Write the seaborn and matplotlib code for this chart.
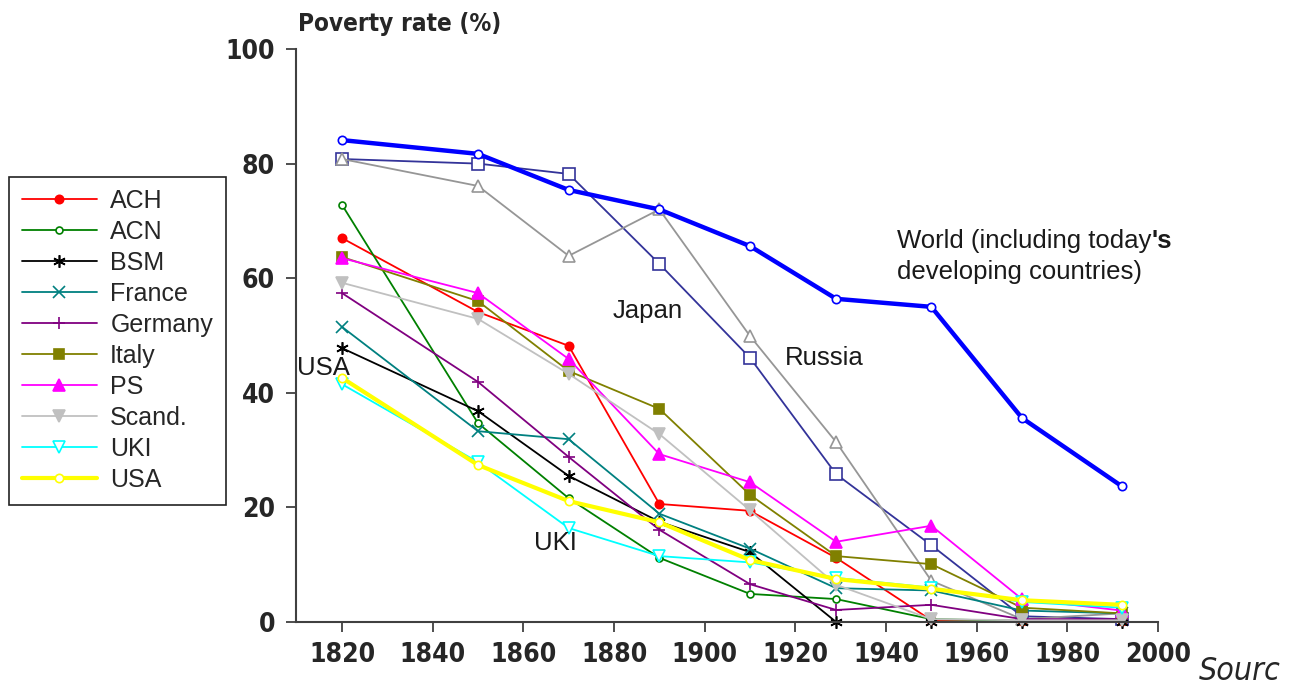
import matplotlib
matplotlib.use("Agg")
import matplotlib.pyplot as plt
import seaborn as sns
import pandas as pd

# ---------------- data ----------------
years = [1820, 1850, 1870, 1890, 1910, 1929, 1950, 1970, 1992]

ach = [67.0, 54.1, 48.2, 20.6, 19.4, 11.2, 0.3, 0.2, 0.2]
acn = [72.8, 34.7, 21.6, 11.2, 4.9, 4.0, 0.5, 0.2, 0.2]
bsm = [47.8, 36.8, 25.5, 17.5, 12.2, 0.0, 0.0, 0.0, 0.0]
france = [51.5, 33.3, 31.9, 18.9, 12.8, 5.9, 5.5, 2.0, 1.5]
germany = [57.4, 41.9, 28.8, 16.1, 6.6, 2.1, 3.0, 0.5, 0.5]
italy = [63.7, 56.0, 43.8, 37.2, 22.2, 11.5, 10.1, 2.5, 1.5]
ps = [63.5, 57.4, 45.9, 29.3, 24.4, 14.0, 16.8, 4.0, 2.0]
scand = [59.2, 52.9, 43.3, 32.8, 19.5, 6.5, 0.5, 0.3, 0.3]
uki = [41.5, 27.9, 16.4, 11.5, 10.4, 7.7, 6.0, 3.5, 2.5]
usa = [42.6, 27.4, 21.1, 17.4, 10.8, 7.5, 5.8, 3.8, 3.0]
japan = [80.8, 80.0, 78.2, 62.5, 46.1, 25.8, 13.4, 1.0, 0.5]
russia = [80.8, 76.1, 63.9, 72.0, 49.9, 31.4, 7.2, 0.5, 1.5]
world = [84.1, 81.7, 75.4, 72.0, 65.6, 56.4, 55.0, 35.6, 23.7]

series_names = ["ACH", "ACN", "BSM", "France", "Germany", "Italy", "PS",
                "Scand.", "UKI", "USA", "Japan", "Russia", "World"]
series_values = [ach, acn, bsm, france, germany, italy, ps, scand, uki, usa,
                 japan, russia, world]
legend_names = ["ACH", "ACN", "BSM", "France", "Germany", "Italy", "PS",
                "Scand.", "UKI", "USA"]

x_ticks = [1820, 1840, 1860, 1880, 1900, 1920, 1940, 1960, 1980, 2000]
y_ticks = [0, 20, 40, 60, 80, 100]

# ---------------- styles ----------------
styles = {
    "ACH":     dict(color="#FF0000", marker="o", mfc="#FF0000", ms=6, lw=1.3),
    "ACN":     dict(color="#008000", marker="o", mfc="white", ms=5, lw=1.3),
    "BSM":     dict(color="#000000", marker=(6, 2, 0), mfc="#000000", ms=9, lw=1.3),
    "France":  dict(color="#008080", marker="x", mfc="#008080", ms=8, lw=1.3),
    "Germany": dict(color="#800080", marker="+", mfc="#800080", ms=9, lw=1.3),
    "Italy":   dict(color="#808000", marker="s", mfc="#808000", ms=7, lw=1.3),
    "PS":      dict(color="#FF00FF", marker="^", mfc="#FF00FF", ms=8, lw=1.3),
    "Scand.":  dict(color="#C0C0C0", marker="v", mfc="#C0C0C0", ms=8, lw=1.3),
    "UKI":     dict(color="#00FFFF", marker="v", mfc="white", ms=8, lw=1.3),
    "USA":     dict(color="#FFFF00", marker="o", mfc="white", ms=6, lw=3.0),
    "Japan":   dict(color="#333399", marker="s", mfc="white", ms=8, lw=1.3),
    "Russia":  dict(color="#969696", marker="^", mfc="white", ms=8, lw=1.3),
    "World":   dict(color="#0000FF", marker="o", mfc="white", ms=6, lw=3.2),
}

rows = []
for name, vals in zip(series_names, series_values):
    for yr, v in zip(years, vals):
        rows.append({"series": name, "year": yr, "rate": v})
df = pd.DataFrame(rows)

sns.set_style("white")
plt.rcParams["font.family"] = ["Liberation Sans", "DejaVu Sans"]

fig = plt.figure(figsize=(13.04, 6.87), dpi=100)
ax = fig.add_axes([296 / 1304, 1 - 622 / 687, (1158 - 296) / 1304, (622 - 49) / 687])

draw_order = ["Japan", "Russia", "World", "ACH", "ACN", "BSM", "France",
              "Germany", "Italy", "PS", "Scand.", "UKI", "USA"]
handles = {}
for name in draw_order:
    st = styles[name]
    sub = df[df["series"] == name]
    sns.lineplot(data=sub, x="year", y="rate", ax=ax, color=st["color"],
                 marker=st["marker"], markersize=st["ms"], linewidth=st["lw"],
                 markerfacecolor=st["mfc"], markeredgecolor=st["color"],
                 markeredgewidth=1.2, label=name if name in legend_names else None,
                 legend=False, clip_on=False)
    handles[name] = ax.lines[-1]

ax.set_xlim(1809.85, 2000)
ax.set_ylim(0, 100)
ax.set_xticks(x_ticks)
ax.set_yticks(y_ticks)
ax.set_xlabel("")
ax.set_ylabel("")
for s in ["top", "right"]:
    ax.spines[s].set_visible(False)
for s in ["left", "bottom"]:
    ax.spines[s].set_color("#404040")
    ax.spines[s].set_linewidth(1.5)
ax.tick_params(axis="both", direction="out", length=7.2, width=1.3, color="#404040",
               bottom=True, left=True)
tick_font = dict(family="DejaVu Sans", stretch="condensed", weight="bold", size=19)
ax.set_xticklabels([str(t) for t in x_ticks], **tick_font)
ax.set_yticklabels([str(t) for t in y_ticks], **tick_font)
ax.tick_params(axis="x", pad=7)
ax.tick_params(axis="y", pad=8)

# legend
leg = fig.legend([handles[n] for n in legend_names], legend_names,
                 loc="upper left", bbox_to_anchor=(9 / 1304, 1 - 176.5 / 687),
                 fontsize=18, frameon=True, fancybox=False, edgecolor="#222222",
                 framealpha=1, handlelength=3.0, labelspacing=0.28,
                 borderpad=0.5, handletextpad=0.55, borderaxespad=0)
leg.get_frame().set_linewidth(1.2)

# annotations
ann = dict(fontsize=18.5, color="#1a1a1a")
ax.text(1810.1, 44.3, "USA", ha="left", va="center", **ann)
ax.text(1867.1, 13.8, "UKI", ha="center", va="center", **ann)
ax.text(1887.5, 54.3, "Japan", ha="center", va="center", **ann)
ax.text(1926.3, 46.1, "Russia", ha="center", va="center", **ann)
t1 = ax.text(1942.4, 66.5, "World (including today", ha="left", va="center", **ann)
ax.annotate("'s", xy=(1, 0.5), xycoords=t1, ha="left", va="center",
            fontsize=18.5, weight="bold", color="#1a1a1a")
ax.text(1942.4, 61.1, "developing countries)", ha="left", va="center", **ann)

fig.text(298 / 1304, 1 - 24 / 687, "Poverty rate (%)", ha="left", va="center",
         fontsize=17.5, weight="bold", family="DejaVu Sans", stretch="condensed")
fig.text(1199 / 1304, 1 - 672 / 687, "Sourc", ha="left", va="center",
         fontsize=23, style="italic", family="DejaVu Sans", stretch="condensed")

fig.savefig("out.png", dpi=100)
